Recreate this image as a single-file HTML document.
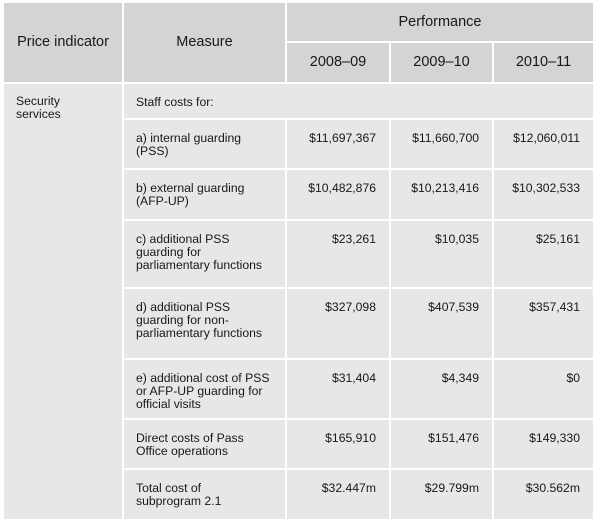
<!DOCTYPE html>
<html><head><style>
body{margin:0;width:601px;height:525px;background:#fff;position:relative;font-family:"Liberation Sans",Arial,sans-serif;color:#1a1718;overflow:hidden}
.c{position:absolute;box-sizing:border-box;font-size:12.2px;line-height:13px}
.h{background:#d3d4d6;font-size:14.5px;display:flex;align-items:center;justify-content:center}
.b{background:#e6e7e8;padding:12px 12px 0 12px}
.n{text-align:right;padding-right:13px}
</style></head><body>
<div class="c h" style="left:4px;top:3px;width:118px;height:79px">Price indicator</div>
<div class="c h" style="left:124px;top:3px;width:161px;height:79px">Measure</div>
<div class="c h" style="left:287px;top:3px;width:306px;height:38px">Performance</div>
<div class="c h" style="left:287px;top:43px;width:102px;height:39px">2008–09</div>
<div class="c h" style="left:391px;top:43px;width:101px;height:39px">2009–10</div>
<div class="c h" style="left:494px;top:43px;width:99px;height:39px">2010–11</div>
<div class="c b" style="left:4px;top:84px;width:118px;height:435px;padding-top:11px">Security<br>services</div>
<div class="c b" style="left:124px;top:84px;width:469px;height:34px;padding-top:12px">Staff costs for:</div>

<div class="c b" style="left:124px;top:120px;width:161px;height:48px">a) internal guarding<br>(PSS)</div>
<div class="c b n" style="left:287px;top:120px;width:102px;height:48px">$11,697,367</div>
<div class="c b n" style="left:391px;top:120px;width:101px;height:48px">$11,660,700</div>
<div class="c b n" style="left:494px;top:120px;width:99px;height:48px">$12,060,011</div>

<div class="c b" style="left:124px;top:170px;width:161px;height:49px">b) external guarding<br>(AFP-UP)</div>
<div class="c b n" style="left:287px;top:170px;width:102px;height:49px">$10,482,876</div>
<div class="c b n" style="left:391px;top:170px;width:101px;height:49px">$10,213,416</div>
<div class="c b n" style="left:494px;top:170px;width:99px;height:49px">$10,302,533</div>

<div class="c b" style="left:124px;top:221px;width:161px;height:66px">c) additional PSS<br>guarding for<br>parliamentary functions</div>
<div class="c b n" style="left:287px;top:221px;width:102px;height:66px">$23,261</div>
<div class="c b n" style="left:391px;top:221px;width:101px;height:66px">$10,035</div>
<div class="c b n" style="left:494px;top:221px;width:99px;height:66px">$25,161</div>

<div class="c b" style="left:124px;top:289px;width:161px;height:69px">d) additional PSS<br>guarding for non-<br>parliamentary functions</div>
<div class="c b n" style="left:287px;top:289px;width:102px;height:69px">$327,098</div>
<div class="c b n" style="left:391px;top:289px;width:101px;height:69px">$407,539</div>
<div class="c b n" style="left:494px;top:289px;width:99px;height:69px">$357,431</div>

<div class="c b" style="left:124px;top:360px;width:161px;height:58px">e) additional cost of PSS<br>or AFP-UP guarding for<br>official visits</div>
<div class="c b n" style="left:287px;top:360px;width:102px;height:58px">$31,404</div>
<div class="c b n" style="left:391px;top:360px;width:101px;height:58px">$4,349</div>
<div class="c b n" style="left:494px;top:360px;width:99px;height:58px">$0</div>

<div class="c b" style="left:124px;top:420px;width:161px;height:48px">Direct costs of Pass<br>Office operations</div>
<div class="c b n" style="left:287px;top:420px;width:102px;height:48px">$165,910</div>
<div class="c b n" style="left:391px;top:420px;width:101px;height:48px">$151,476</div>
<div class="c b n" style="left:494px;top:420px;width:99px;height:48px">$149,330</div>

<div class="c b" style="left:124px;top:470px;width:161px;height:49px">Total cost of<br>subprogram 2.1</div>
<div class="c b n" style="left:287px;top:470px;width:102px;height:49px">$32.447m</div>
<div class="c b n" style="left:391px;top:470px;width:101px;height:49px">$29.799m</div>
<div class="c b n" style="left:494px;top:470px;width:99px;height:49px">$30.562m</div>
</body></html>
